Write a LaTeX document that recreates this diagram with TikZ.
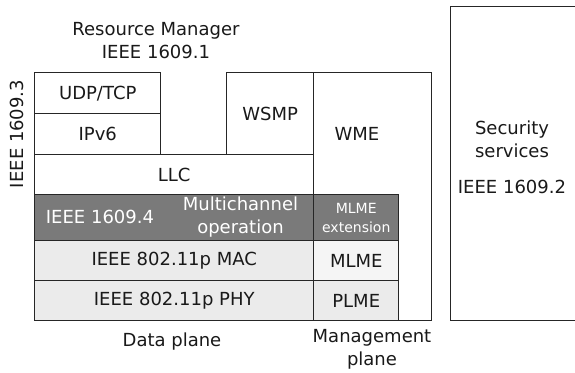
\documentclass[tikz,border=0pt]{standalone}
\usepackage{fontspec}
\setmainfont{DejaVu Sans}
\usetikzlibrary{positioning}

\begin{document}
\begin{tikzpicture}[
    % GLOBAL CFG
    x=0.5pt, y=-0.5pt,
    font=\fontsize{9}{11.5}\selectfont,
    % Styles
    layer/.style={% For the boxes of the stack
        rectangle,
        draw=black!85,
        line width=0.75pt,
        anchor=north west,
        inner sep=0pt,
        },
    darkbox/.style={% For the 1609.4 row
        layer,
        fill=black!52,
        },
    lightbox/.style={% For the 802.11p rows
        layer,
        fill=black!8,
        },
    txt/.style={% Plain text
        align=center,
        inner sep=0pt,
        text=black!90,
        },
    wtxt/.style={% White text on dark row
        txt,
        text=white,
        },
    ]

%Start drawing the thing...
    \clip (0,0) rectangle (575,373);

    % Upper layers
    \node [layer, minimum width=126pt/2, minimum height=41pt/2] (udp) at (34,72) {};
    \node [layer, minimum width=126pt/2, minimum height=41pt/2] (ipv6) at (34,113) {};
    \node [layer, minimum width=87pt/2, minimum height=82pt/2] (wsmp) at (226,72) {};
    \node [layer, minimum width=279pt/2, minimum height=40pt/2] (llc) at (34,154) {};
    \node [layer, minimum width=118pt/2, minimum height=248pt/2] (wme) at (313,72) {};

    % Lower layers
    \node [darkbox, minimum width=279pt/2, minimum height=46pt/2] (wave) at (34,194) {};
    \node [darkbox, minimum width=85pt/2, minimum height=46pt/2] (mlmeext) at (313,194) {};
    \node [lightbox, minimum width=279pt/2, minimum height=40pt/2] (mac) at (34,240) {};
    \node [layer, fill=black!4, minimum width=85pt/2, minimum height=40pt/2] (mlme) at (313,240) {};
    \node [lightbox, minimum width=279pt/2, minimum height=40pt/2] (phy) at (34,280) {};
    \node [lightbox, minimum width=85pt/2, minimum height=40pt/2] (plme) at (313,280) {};

    % Security box
    \node [layer, minimum width=140pt/2, minimum height=314pt/2] (sec) at (450,6) {};

    % Texts
    \node [txt] (rm) at (156,40.5) {Resource Manager\\IEEE 1609.1};
    \node [txt, rotate=90] (ip) at (17,134) {IEEE 1609.3};
    \node [txt] (udptxt) at (udp.center) {UDP/TCP};
    \node [txt] (ipv6txt) at (ipv6.center) {IPv6};
    \node [txt] (wsmptxt) at (wsmp.center) {WSMP};
    \node [txt] (wmetxt) at (357,134) {WME};
    \node [txt] (llctxt) at (llc.center) {LLC};
    \node [wtxt] (wavetxt) at (100,217) {IEEE 1609.4};
    \node [wtxt] (mchtxt) at (240.5,217) {Multichannel\\operation};
    \node [wtxt, font=\fontsize{7}{9.5}\selectfont] (exttxt) at (mlmeext.center) {MLME\\extension};
    \node [txt] (mactxt) at (mac.center) {IEEE 802.11p MAC};
    \node [txt] (mlmetxt) at (mlme.center) {MLME};
    \node [txt] (phytxt) at (phy.center) {IEEE 802.11p PHY};
    \node [txt] (plmetxt) at (plme.center) {PLME};
    \node [txt] (data) at (172,342) {Data plane};
    \node [txt] (mgmt) at (372,349.5) {Management\\plane};
    \node [txt] (sectxt) at (512,139.5) {Security\\services};
    \node [txt] (sectxt2) at (512,187) {IEEE 1609.2};

\end{tikzpicture}
\end{document}
